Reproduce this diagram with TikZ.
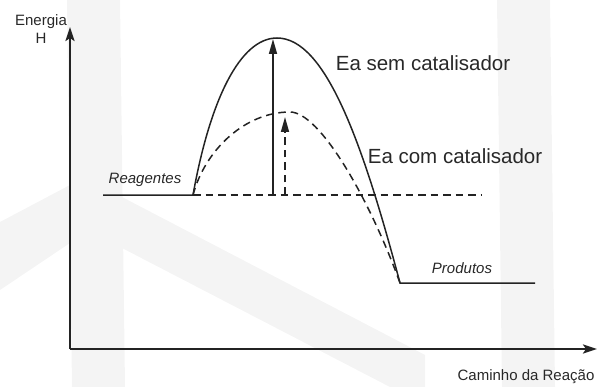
\documentclass[tikz,border=0pt]{standalone}
\usepackage{fontspec}
\setmainfont{Liberation Sans}
\usepackage{xcolor}
\definecolor{inkgray}{RGB}{35, 35, 35}
\definecolor{labelgray}{RGB}{40, 40, 40}
\definecolor{markgray}{RGB}{244, 244, 244}
\usepackage{tikz}
\usetikzlibrary{arrows.meta, positioning, calc}

\begin{document}
\begin{tikzpicture}[x=1pt, y=-1pt, >=Stealth,
    axis/.style={line width=2.2pt, inkgray, -{Stealth[length=14pt, width=9pt, inset=3pt]}},
    curve/.style={line width=1.5pt, inkgray},
    dashcurve/.style={curve, dash pattern=on 7.5pt off 5pt},
    ealine/.style={line width=1.5pt, inkgray, -{Triangle[length=15pt, width=8pt]}},
    small/.style={font=\fontsize{15}{18}\selectfont, labelgray},
    smallit/.style={font=\fontsize{15}{18}\selectfont\itshape, labelgray},
    big/.style={font=\fontsize{20.5}{24}\selectfont, labelgray}]
    \useasboundingbox (0,0) rectangle (601,387);
    % faint watermark behind the plot
    \fill[markgray] (67,0) -- (120,0) -- (125,387) -- (72,387) -- cycle;
    \fill[markgray] (0,222) -- (70,185) -- (70,243) -- (0,290) -- cycle;
    \fill[markgray] (122,197) -- (425,355) -- (425,387) -- (390,387) -- (122,248) -- cycle;
    \fill[markgray] (497,0) -- (550,0) -- (555,387) -- (502,387) -- cycle;

    % axes
    \coordinate (O) at (70,349);
    \coordinate (ytip) at (70,27);
    \coordinate (xtip) at (597,349);
    \draw[axis] (O) -- (ytip);
    \draw[axis] (O) -- (xtip);
    \node[small, align=center] (energia) at (41,29) {Energia\\H};
    \node[small] (caminho) at (526,377) {Caminho da Reação};

    % levels and paths
    \coordinate (R1) at (103,195);
    \coordinate (R2) at (193,195);
    \coordinate (Ts) at (277,38);
    \coordinate (Tc) at (290,112);
    \coordinate (P1) at (400,283);
    \coordinate (P2) at (535,283);
    \coordinate (Dend) at (482,195);
    \draw[curve] (R1) -- (R2) .. controls (210,100) and (240,38) .. (Ts)
        .. controls (325,38) and (362,140) .. (P1) -- (P2);
    \draw[dashcurve] (R2) .. controls (205,150) and (245,112) .. (Tc)
        .. controls (320,112) and (370,200) .. (P1);
    \draw[dashcurve] (R2) -- (Dend);
    \node[smallit] (reag) at (145,180) {Reagentes};
    \node[smallit] (prod) at (462,268) {Produtos};

    % activation energies
    \coordinate (As0) at (273,195);
    \coordinate (As1) at (273,39);
    \coordinate (Ac0) at (285,195);
    \coordinate (Ac1) at (285,117);
    \draw[ealine] (As0) -- (As1);
    \draw[ealine, dash pattern=on 7.5pt off 5pt] (Ac0) -- (Ac1);
    \node[big] (sem) at (423,63) {Ea sem catalisador};
    \node[big] (com) at (455,156) {Ea com catalisador};
\end{tikzpicture}
\end{document}
